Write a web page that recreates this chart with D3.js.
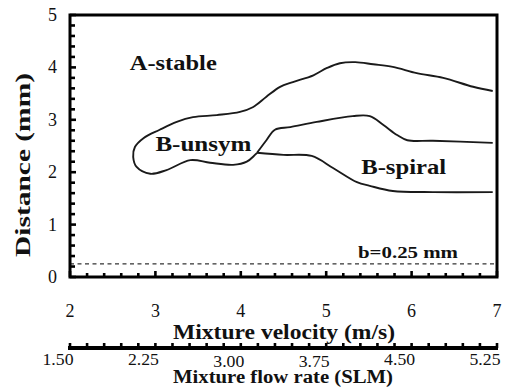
<!DOCTYPE html>
<html>
<head>
<meta charset="utf-8">
<script src="https://cdn.jsdelivr.net/npm/d3@7"></script>
<style>
  body { margin: 0; background: #fff; }
  svg text { font-family: "Liberation Serif", "Times New Roman", serif; fill: #111; }
</style>
</head>
<body>
<svg id="chart"></svg>
<script>
(function () {

  var width = 505, height = 387;

  // boundary curves, [velocity m/s, distance mm]
  var stableBoundary = [
    [6.95, 3.55], [6.72, 3.63], [6.37, 3.80], [6.06, 3.89], [5.78, 4.01],
    [5.55, 4.06], [5.34, 4.10], [5.16, 4.08], [5.01, 3.99], [4.85, 3.85],
    [4.61, 3.72], [4.46, 3.63], [4.30, 3.44], [4.14, 3.24], [3.99, 3.15],
    [3.72, 3.09], [3.44, 3.05], [3.25, 2.96], [3.05, 2.81], [2.86, 2.65],
    [2.76, 2.48], [2.74, 2.29], [2.78, 2.10], [2.94, 1.97], [3.13, 2.04],
    [3.41, 2.23], [3.64, 2.18], [3.91, 2.14], [4.07, 2.20], [4.19, 2.37]
  ];
  var unsymUpper = [
    [4.19, 2.37], [4.30, 2.61], [4.40, 2.81], [4.58, 2.86], [4.89, 2.96],
    [5.31, 3.07], [5.51, 3.07], [5.67, 2.90], [5.83, 2.71], [5.95, 2.61],
    [6.25, 2.60], [6.95, 2.56]
  ];
  var spiralLower = [
    [4.19, 2.37], [4.50, 2.33], [4.83, 2.31], [5.08, 2.08], [5.36, 1.81],
    [5.51, 1.74], [5.78, 1.64], [6.25, 1.62], [6.95, 1.62]
  ];
  var gapLine = 0.25;

  var velocityTicks = [2, 3, 4, 5, 6, 7];
  var distanceTicks = [0, 1, 2, 3, 4, 5];
  var flowTicks = [1.50, 2.25, 3.00, 3.75, 4.50, 5.25];

  var regionLabels = [
    { text: 'A-stable', x: 2.70, y: 3.95, len: 87 },
    { text: 'B-unsym', x: 3.00, y: 2.40, len: 96 },
    { text: 'B-spiral', x: 5.41, y: 1.97, len: 85 }
  ];

  var svg = d3.select('#chart').attr('width', width).attr('height', height);

  var x = d3.scaleLinear().domain([2, 7]).range([70, 497]);
  var y = d3.scaleLinear().domain([0, 5]).range([277, 15]);
  var xFlow = d3.scaleLinear().domain([1.5, 5.25]).range([70, 497]);

  // minor ticks (inside the frame)
  var yMinor = d3.range(0, 5.001, 0.2);
  var xMinor = d3.range(2, 7.001, 0.2);

  svg.append('g').selectAll('line').data(yMinor).join('line')
    .attr('x1', x(2)).attr('x2', function (d) { return x(2) + (Math.abs(d - Math.round(d)) < 1e-6 ? 6 : 5); })
    .attr('y1', function (d) { return y(d); }).attr('y2', function (d) { return y(d); })
    .attr('stroke', '#000').attr('stroke-width', 2.6);

  svg.append('g').selectAll('line').data(xMinor).join('line')
    .attr('y1', y(0)).attr('y2', function (d) { return y(0) - (Math.abs(d - Math.round(d)) < 1e-6 ? 6 : 4); })
    .attr('x1', function (d) { return x(d); }).attr('x2', function (d) { return x(d); })
    .attr('stroke', '#000').attr('stroke-width', 2.6);

  // dashed gap line
  svg.append('line')
    .attr('x1', x(2)).attr('x2', x(7))
    .attr('y1', y(gapLine)).attr('y2', y(gapLine))
    .attr('stroke', '#000').attr('stroke-width', 1)
    .attr('stroke-dasharray', '4,3.5');

  // frame
  svg.append('rect')
    .attr('x', x(2)).attr('y', y(5))
    .attr('width', x(7) - x(2)).attr('height', y(0) - y(5))
    .attr('fill', 'none').attr('stroke', '#000').attr('stroke-width', 3);

  // curves
  var line = d3.line()
    .x(function (d) { return x(d[0]); })
    .y(function (d) { return y(d[1]); })
    .curve(d3.curveCatmullRom.alpha(0.5));

  [stableBoundary, unsymUpper, spiralLower].forEach(function (pts) {
    svg.append('path')
      .datum(pts)
      .attr('d', line)
      .attr('fill', 'none')
      .attr('stroke', '#1a1a1a')
      .attr('stroke-width', 1.9)
      .attr('stroke-linejoin', 'round');
  });

  // region labels
  svg.append('g').selectAll('text').data(regionLabels).join('text')
    .attr('x', function (d) { return x(d.x); })
    .attr('y', function (d) { return y(d.y); })
    .attr('font-size', 20).attr('font-weight', 'bold')
    .attr('textLength', function (d) { return d.len; })
    .attr('lengthAdjust', 'spacingAndGlyphs')
    .text(function (d) { return d.text; });

  svg.append('text')
    .attr('x', 358).attr('y', y(gapLine) - 6)
    .attr('font-size', 16).attr('font-weight', 'bold')
    .attr('textLength', 100).attr('lengthAdjust', 'spacingAndGlyphs')
    .text('b=0.25 mm');

  // y tick labels
  svg.append('g').selectAll('text').data(distanceTicks).join('text')
    .attr('x', 57).attr('y', function (d) { return y(d) + 6; })
    .attr('text-anchor', 'end').attr('font-size', 18)
    .text(function (d) { return d; });

  // velocity tick labels
  svg.append('g').selectAll('text').data(velocityTicks).join('text')
    .attr('x', function (d) { return x(d); }).attr('y', 317)
    .attr('text-anchor', 'middle').attr('font-size', 18)
    .text(function (d) { return d; });

  svg.append('text')
    .attr('x', 173).attr('y', 339)
    .attr('font-size', 20).attr('font-weight', 'bold')
    .attr('textLength', 222).attr('lengthAdjust', 'spacingAndGlyphs')
    .text('Mixture velocity (m/s)');

  // secondary axis: flow rate
  var gFlow = svg.append('g').attr('transform', 'translate(0,348)');
  var flowMinor = d3.range(1.5, 5.2501, 0.15);
  gFlow.selectAll('line.tick').data(flowMinor).join('line')
    .attr('class', 'tick')
    .attr('x1', function (d) { return xFlow(d); }).attr('x2', function (d) { return xFlow(d); })
    .attr('y1', 0).attr('y2', -5)
    .attr('stroke', '#000').attr('stroke-width', 2.6);
  gFlow.append('line')
    .attr('x1', 68).attr('x2', xFlow(5.25) + 1)
    .attr('y1', 0).attr('y2', 0)
    .attr('stroke', '#000').attr('stroke-width', 4);

  gFlow.selectAll('text').data(flowTicks).join('text')
    .attr('x', function (d) { return xFlow(d) - 12; })
    .attr('y', function (d, i) { return (i === 2 || i === 3) ? 19 : 17; })
    .attr('text-anchor', 'middle').attr('font-size', 17)
    .attr('textLength', 31).attr('lengthAdjust', 'spacingAndGlyphs')
    .text(function (d) { return d.toFixed(2); });

  svg.append('text')
    .attr('x', 173).attr('y', 383)
    .attr('font-size', 18).attr('font-weight', 'bold')
    .attr('textLength', 220).attr('lengthAdjust', 'spacingAndGlyphs')
    .text('Mixture flow rate (SLM)');

  // y title
  svg.append('text')
    .attr('transform', 'translate(30,257) rotate(-90)')
    .attr('font-size', 20).attr('font-weight', 'bold')
    .attr('textLength', 184).attr('lengthAdjust', 'spacingAndGlyphs')
    .text('Distance (mm)');

})();
</script>
</body>
</html>
